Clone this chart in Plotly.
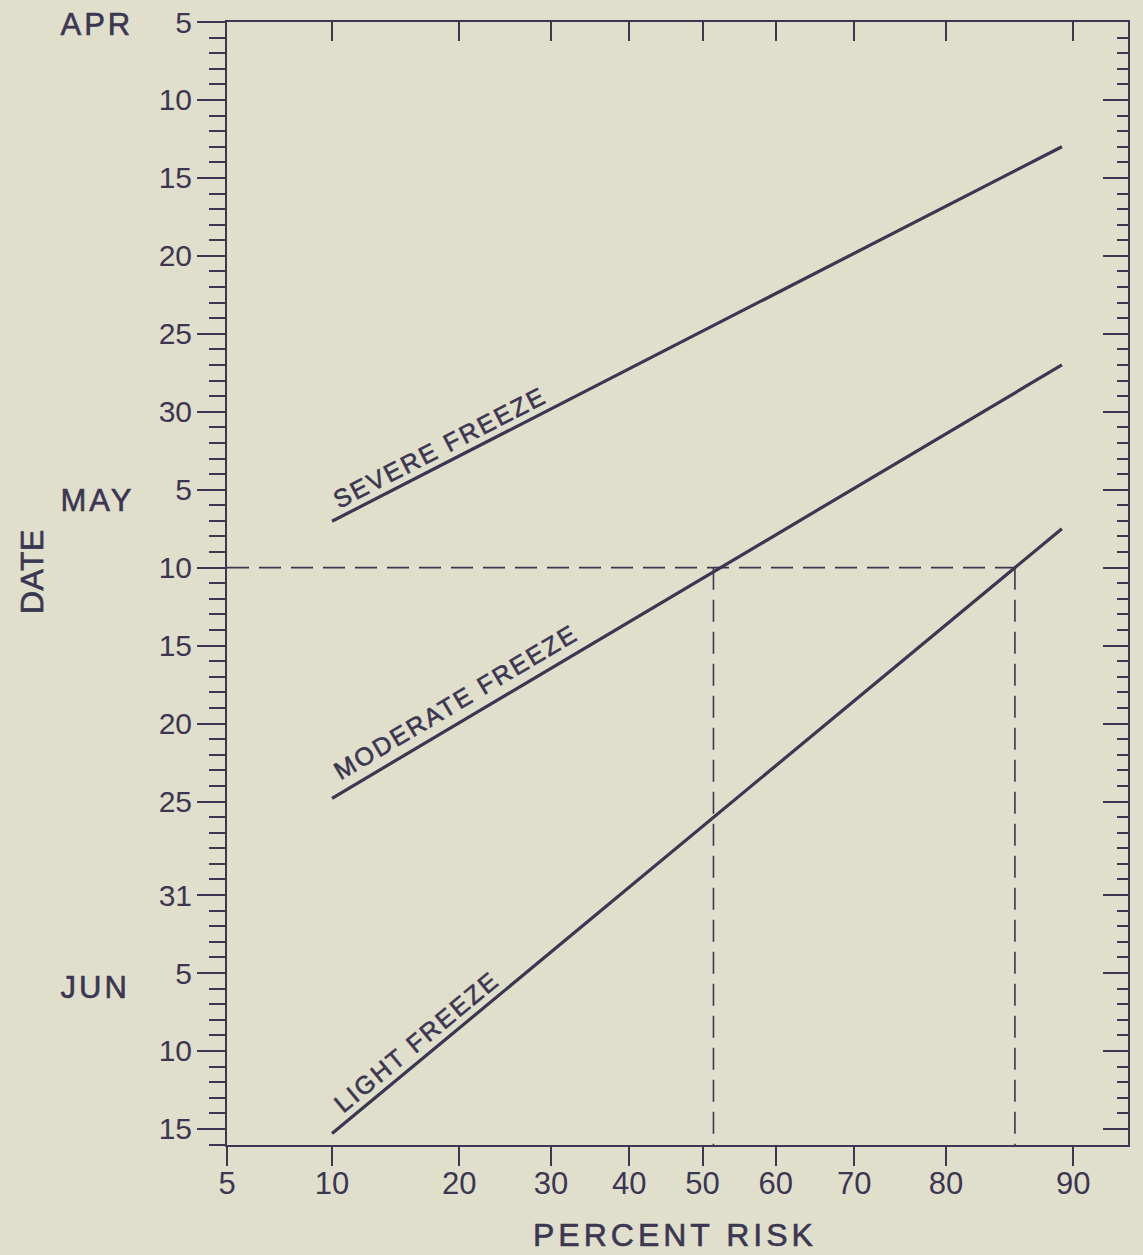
import math
import json
import pandas as pd
import plotly.graph_objects as go

# ---------------- data ----------------
risk_ticks = [5, 10, 20, 30, 40, 50, 60, 70, 80, 90]
date_tick_vals = ["2023-04-05", "2023-04-10", "2023-04-15", "2023-04-20", "2023-04-25", "2023-04-30",
                  "2023-05-05", "2023-05-10", "2023-05-15", "2023-05-20", "2023-05-25", "2023-05-31",
                  "2023-06-05", "2023-06-10", "2023-06-15"]
date_tick_text = ["5", "10", "15", "20", "25", "30", "5", "10", "15", "20", "25", "31", "5", "10", "15"]
month_labels = ["APR", "MAY", "JUN"]
month_dates = ["2023-04-05", "2023-05-05", "2023-06-05"]

severe_risk = [10, 89.3]
severe_date = ["2023-05-07 00:30", "2023-04-13 00:00"]
moderate_risk = [10, 89.3]
moderate_date = ["2023-05-24 19:00", "2023-04-27 00:00"]
light_risk = [10, 89.3]
light_date = ["2023-06-15 07:00", "2023-05-07 12:00"]

example_date = "2023-05-10"
example_risks = [51.5, 86]

date_start = "2023-04-05"
date_end = "2023-06-16 00:45"
risk_min = 5
risk_max = 92.94

# ---------------- helpers ----------------
def probit(p):
    """inverse standard normal CDF of a percentage"""
    q = p / 100.0
    lo, hi = -8.0, 8.0
    for _ in range(80):
        mid = 0.5 * (lo + hi)
        if 0.5 * (1 + math.erf(mid / math.sqrt(2))) < q:
            lo = mid
        else:
            hi = mid
    return 0.5 * (lo + hi)

INK = "#3b3652"
BG = "#e0dfcc"
FONT = "Liberation Sans, Arial, Helvetica, sans-serif"

W, H = 1143, 1255
ML, MR, MT, MB = 227, 15, 22, 110
PW, PH = W - ML - MR, H - MT - MB

x_range = [probit(risk_min), probit(risk_max)]
t0, t1 = pd.Timestamp(date_start), pd.Timestamp(date_end)
span_days = (t1 - t0).total_seconds() / 86400
px_per_z = PW / (x_range[1] - x_range[0])
px_per_day = PH / span_days

fig = go.Figure()

# (name, risks, dates, label-centre risk, perpendicular offset px)
series = [
    ("SEVERE FREEZE", severe_risk, severe_date, 18.9, 17),
    ("MODERATE FREEZE", moderate_risk, moderate_date, 20.6, 20),
    ("LIGHT FREEZE", light_risk, light_date, 17.1, 17),
]

annotations = []
spacing = []
for name, risks, dates, lab_risk, off in series:
    zs = [probit(r) for r in risks]
    fig.add_trace(go.Scatter(x=zs, y=dates, mode="lines", name=name,
                             line=dict(color=INK, width=3.2), showlegend=False,
                             hoverinfo="skip"))
    d0, d1 = pd.Timestamp(dates[0]), pd.Timestamp(dates[1])
    dz = zs[1] - zs[0]
    dd = (d1 - d0).total_seconds() / 86400
    ang = math.degrees(math.atan2(-dd * px_per_day, dz * px_per_z))
    zl = probit(lab_risk)
    frac = (zl - zs[0]) / dz
    dl = d0 + (d1 - d0) * frac
    a = math.radians(ang)
    annotations.append(dict(
        x=zl, y=dl, xref="x", yref="y", text=name, showarrow=False,
        textangle=-ang, xanchor="center", yanchor="middle",
        xshift=-off * math.sin(a), yshift=off * math.cos(a),
        font=dict(family=FONT, size=25, color=INK)))
    spacing.append(2.2)

# dashed example lines
z_end = probit(example_risks[-1])
fig.add_trace(go.Scatter(x=[x_range[0], z_end], y=[example_date, example_date], mode="lines",
                         line=dict(color=INK, width=1.6, dash="22px,10px"),
                         showlegend=False, hoverinfo="skip"))
for r in example_risks:
    z = probit(r)
    fig.add_trace(go.Scatter(x=[z, z], y=[example_date, date_end], mode="lines",
                             line=dict(color=INK, width=1.6, dash="22px,10px"),
                             showlegend=False, hoverinfo="skip"))

# helper trace for the mirrored (top / right) axes
fig.add_trace(go.Scatter(x=[None], y=[None], xaxis="x2", yaxis="y2", showlegend=False,
                         hoverinfo="skip"))

# month labels
month_shift = [-2, -11, -14]
for lab, d, s in zip(month_labels, month_dates, month_shift):
    annotations.append(dict(x=(63 - ML) / PW, y=d, xref="paper", yref="y", text=lab,
                            showarrow=False, xanchor="left", yanchor="middle", yshift=s,
                            font=dict(family=FONT, size=31, color=INK)))
    spacing.append(3)

annotations.append(dict(x=(32 - ML) / PW, y=(H - MB - 572) / PH, xref="paper", yref="paper",
                        text="DATE", textangle=-90, showarrow=False,
                        xanchor="center", yanchor="middle",
                        font=dict(family=FONT, size=32, color=INK)))
spacing.append(0.5)
annotations.append(dict(x=(675 - ML) / PW, y=(H - MB - 1235) / PH, xref="paper", yref="paper",
                        text="PERCENT RISK", showarrow=False,
                        xanchor="center", yanchor="middle",
                        font=dict(family=FONT, size=32, color=INK)))
spacing.append(4)

x_tickvals = [probit(r) for r in risk_ticks]
x_ticktext = [str(r) for r in risk_ticks]
minor_day = 86400000

common_x = dict(range=x_range, tickmode="array", tickvals=x_tickvals, showgrid=False,
                zeroline=False, showline=True, linecolor=INK, linewidth=2,
                tickcolor=INK, tickwidth=2, fixedrange=True, automargin=False)
common_y = dict(type="date", range=[date_end, date_start], tickmode="array",
                tickvals=date_tick_vals, showgrid=False, zeroline=False, showline=True,
                linecolor=INK, linewidth=2, tickcolor=INK, tickwidth=2, fixedrange=True,
                automargin=False)

fig.update_layout(
    width=W, height=H,
    margin=dict(l=ML, r=MR, t=MT, b=MB, autoexpand=False),
    paper_bgcolor=BG, plot_bgcolor=BG,
    xaxis=dict(**common_x, ticktext=x_ticktext, ticks="outside", ticklen=19,
               ticklabelstandoff=-9,
               tickfont=dict(family=FONT, size=31, color=INK)),
    xaxis2=dict(**common_x, overlaying="x", side="top", ticks="inside", ticklen=19,
                showticklabels=False, matches="x"),
    yaxis=dict(**common_y, ticktext=date_tick_text, ticks="outside", ticklen=28,
               ticklabelstandoff=-1,
               tickfont=dict(family=FONT, size=30, color=INK),
               minor=dict(ticks="outside", ticklen=16, tickwidth=2, tickcolor=INK,
                          dtick=minor_day, tick0=date_start, showgrid=False)),
    yaxis2=dict(**common_y, overlaying="y", side="right", ticks="inside", ticklen=25,
                showticklabels=False, matches="y",
                minor=dict(ticks="inside", ticklen=11, tickwidth=2, tickcolor=INK,
                           dtick=minor_day, tick0=date_start, showgrid=False)),
    annotations=annotations,
    showlegend=False,
)

post_script = """
(function(){
  document.body.style.margin='0px';
  document.body.style.padding='0px';
  document.body.style.background='%s';
  var sp = %s;
  function apply(){
    var gd = document.getElementById('{plot_id}');
    if(!gd) return;
    var gs = gd.querySelectorAll('g.annotation');
    for (var i=0;i<gs.length;i++){
      var idx = parseInt(gs[i].getAttribute('data-index'));
      if (isNaN(idx)) idx = i;
      var t = gs[i].querySelector('text.annotation-text');
      if (t && idx < sp.length) {
        t.style.letterSpacing = sp[idx] + 'px';
        t.style.stroke = '%s';
        t.style.strokeWidth = '0.6px';
      }
    }
  }
  apply();
  var g = document.getElementById('{plot_id}');
  if (g && g.on) g.on('plotly_afterplot', apply);
  setTimeout(apply, 50);
})();
""" % (BG, json.dumps(spacing), INK)

fig.write_html("out.html", post_script=post_script, config={"displayModeBar": False})
